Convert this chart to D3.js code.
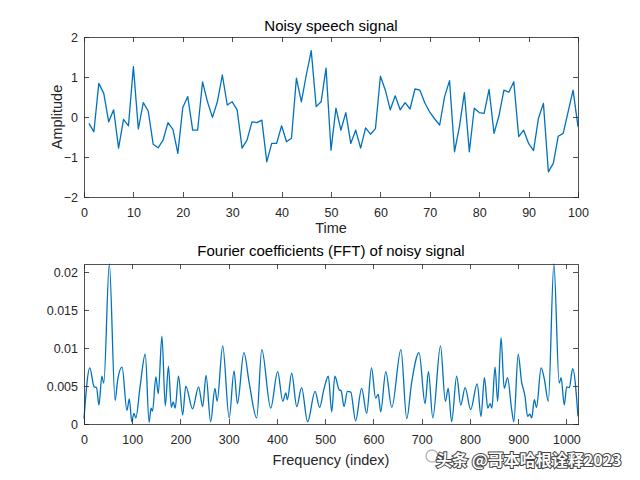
<!DOCTYPE html>
<html lang="en">
<head>
    <meta charset="UTF-8">
    <title>Noisy speech signal</title>
    <script src="https://cdn.jsdelivr.net/npm/d3@7/dist/d3.min.js"></script>
    <style>
        body { margin: 0; background: #fff; }
        .axis path, .axis line {
            fill: none;
            stroke: #262626;
            stroke-width: 0.8;
            shape-rendering: crispEdges;
        }
        .axis text {
            font-family: "Liberation Sans", Arial, sans-serif;
            font-size: 12.5px;
            fill: #262626;
        }
        .label {
            font-family: "Liberation Sans", Arial, sans-serif;
            font-size: 14.5px;
            fill: #262626;
        }
        .title {
            font-family: "Liberation Sans", Arial, sans-serif;
            font-size: 15px;
            fill: #000;
        }
    </style>
</head>
<body>
<script>
	// 时域信号 (t = 1..100)
	var signal = [
		-0.16, -0.37, 0.84, 0.59, -0.12, 0.18, -0.78, -0.06, -0.22, 1.26,
		-0.30, 0.36, 0.15, -0.68, -0.77, -0.58, -0.14, -0.31, -0.91, 0.24,
		0.51, -0.33, -0.33, 0.88, 0.38, -0.01, 0.38, 1.05, 0.30, 0.38,
		0.18, -0.78, -0.58, -0.12, -0.14, -0.08, -1.12, -0.66, -0.66, -0.22,
		-0.62, -0.53, 0.97, 0.38, 1.05, 1.66, 0.26, 0.38, 1.22, -0.83,
		0.22, -0.33, 0.11, -0.66, -0.33, -0.78, -0.27, -0.43, -0.29, 1.02,
		0.67, 0.18, 0.53, 0.18, 0.36, 0.20, 0.70, 0.67, 0.35, 0.12,
		-0.05, -0.20, 0.51, 0.91, -0.87, -0.24, 0.61, -0.87, 0.22, 0.11,
		0.09, 0.69, -0.41, 0.03, 0.67, 0.62, 0.88, -0.49, -0.33, -0.66,
		-0.84, -0.03, 0.34, -1.37, -1.16, -0.48, -0.41, 0.13, 0.67, -0.24
	];
	var timeIdx = d3.range(1, signal.length + 1);

	// FFT 幅值 (读图得到的极值点)
	var freqIdx = [
		0, 12, 21, 26, 31, 37, 41, 52.5, 64.5, 70, 79, 89, 94, 99, 103.5, 107.5,
		116, 127, 135, 139, 142, 149, 154, 161.5, 168.5, 175, 181, 185, 189, 196,
		204.5, 211, 225, 237.5, 246, 253, 262.5, 271.5, 276, 287.5, 301, 311, 318,
		331.5, 342.5, 358, 368.5, 387, 401.5, 412, 418.5, 421.5, 430.5, 441, 451,
		463.5, 479, 488.5, 497, 506.5, 513.5, 520, 529, 533, 539, 546, 553, 563,
		575.5, 586, 596, 604.5, 610, 615, 625.5, 638, 657, 669, 679, 694.5, 707,
		714, 723, 739, 749, 755, 762, 772.5, 781, 790, 801.5, 815, 823, 830, 837,
		842, 845.5, 852, 857.5, 864.5, 871, 878, 886.5, 891, 900, 907, 914, 919.5,
		924, 928, 933.5, 938, 947.5, 954, 962.5, 974, 985, 989, 995.5, 1000.5,
		1006, 1013, 1024
	];
	var fftMag = [
		0.0007, 0.0074, 0.0049, 0.0048, 0.0025, 0.0063, 0.0054, 0.0211, 0.0031, 0.0059, 0.0075, 0.0018, 0.0033, 0.0003, 0.0014, 0.0008,
		0.0048, 0.0092, 0.0002, 0.0021, 0.0017, 0.0062, 0.0040, 0.0116, 0.0024, 0.0076, 0.0022, 0.0029, 0.0021, 0.0063,
		0.0012, 0.0050, 0.0020, 0.0049, 0.0023, 0.0064, 0.0003, 0.0047, 0.0030, 0.0103, 0.0008, 0.0070, 0.0027,
		0.0094, 0.0054, 0.0008, 0.0098, 0.0021, 0.0069, 0.0030, 0.0041, 0.0032, 0.0067, 0.0023, 0.0048,
		0.0003, 0.0043, 0.0022, 0.0045, 0.0063, 0.0016, 0.0063, 0.0045, 0.0044, 0.0023, 0.0043, 0.0042, 0.0004,
		0.0047, 0.0014, 0.0074, 0.0034, 0.0039, 0.0016, 0.0069, 0.0022, 0.0098, 0.0007, 0.0054, 0.0094, 0.0027,
		0.0069, 0.0008, 0.0103, 0.0030, 0.0047, 0.0003, 0.0063, 0.0025, 0.0048, 0.0019, 0.0053, 0.0010, 0.0061, 0.0021,
		0.0027, 0.0021, 0.0075, 0.0030, 0.0114, 0.0047, 0.0061, 0.0019, 0.0003, 0.0092, 0.0056, 0.0037, 0.0010,
		0.0013, 0.0008, 0.0032, 0.0022, 0.0074, 0.0060, 0.0030, 0.0211, 0.0054, 0.0061, 0.0025, 0.0049,
		0.0048, 0.0073, 0.0010
	];

	var timeTicks = [0, 10, 20, 30, 40, 50, 60, 70, 80, 90, 100];
	var ampTicks = [-2, -1, 0, 1, 2];
	var freqTicks = [0, 100, 200, 300, 400, 500, 600, 700, 800, 900, 1000];
	var magTicks = [0, 0.005, 0.01, 0.015, 0.02];

	// 初始化画布
	var width = 640;
	var height = 480;
	var svg = d3.select("body")
		.append("svg")
		.attr("width", width)
		.attr("height", height);
	svg.append("rect").attr("width", width).attr("height", height).attr("fill", "#fff");

	var left = 84, right = 578;
	var lineColor = "#0072BD";
	var tickLen = 5;

	function drawAxes(top, bottom, x, y, xt, yt, fmtY) {
		var g = svg.append("g").attr("class", "axis");
		g.append("g").attr("transform", "translate(0," + bottom + ")")
			.call(d3.axisBottom(x).tickValues(xt).tickSizeInner(-tickLen).tickSizeOuter(0).tickPadding(11).tickFormat(d3.format("d")));
		g.append("g").attr("transform", "translate(0," + top + ")")
			.call(d3.axisTop(x).tickValues(xt).tickSizeInner(-tickLen).tickSizeOuter(0).tickFormat(""));
		g.append("g").attr("transform", "translate(" + left + ",0)")
			.call(d3.axisLeft(y).tickValues(yt).tickSizeInner(-tickLen).tickSizeOuter(0).tickPadding(6).tickFormat(fmtY));
		g.append("g").attr("transform", "translate(" + right + ",0)")
			.call(d3.axisRight(y).tickValues(yt).tickSizeInner(-tickLen).tickSizeOuter(0).tickFormat(""));
		return g;
	}

	// 上图：时域
	var top1 = 37, bot1 = 197;
	var x1 = d3.scaleLinear().domain([0, 100]).range([left, right]);
	var y1 = d3.scaleLinear().domain([-2, 2]).range([bot1, top1]);

	svg.append("path")
		.datum(signal)
		.attr("fill", "none")
		.attr("stroke", lineColor)
		.attr("stroke-width", 1.3)
		.attr("stroke-linejoin", "round")
		.attr("d", d3.line()
			.x(function (d, i) { return x1(timeIdx[i]); })
			.y(function (d) { return y1(d); }));
	drawAxes(top1, bot1, x1, y1, timeTicks, ampTicks, d3.format("d"));

	svg.append("text").attr("class", "title").attr("x", (left + right) / 2).attr("y", 31)
		.attr("text-anchor", "middle").text("Noisy speech signal");
	svg.append("text").attr("class", "label").attr("x", (left + right) / 2).attr("y", 233)
		.attr("text-anchor", "middle").text("Time");
	svg.append("text").attr("class", "label")
		.attr("transform", "translate(62," + (top1 + bot1) / 2 + ") rotate(-90)")
		.attr("text-anchor", "middle").text("Amplitude");

	// 下图：FFT
	var top2 = 264, bot2 = 424;
	var x2 = d3.scaleLinear().domain([0, 1024]).range([left, right]);
	var y2 = d3.scaleLinear().domain([0, 0.0211]).range([bot2, top2]);

	svg.append("path")
		.datum(fftMag)
		.attr("fill", "none")
		.attr("stroke", lineColor)
		.attr("stroke-width", 1.3)
		.attr("stroke-linejoin", "round")
		.attr("d", d3.line()
			.curve(d3.curveMonotoneX)
			.x(function (d, i) { return x2(freqIdx[i]); })
			.y(function (d) { return y2(d); }));
	drawAxes(top2, bot2, x2, y2, freqTicks, magTicks, d3.format("~g"));

	svg.append("text").attr("class", "title").attr("x", (left + right) / 2).attr("y", 256)
		.attr("text-anchor", "middle").text("Fourier coefficients (FFT) of noisy signal");
	svg.append("text").attr("class", "label").attr("x", (left + right) / 2).attr("y", 465)
		.attr("text-anchor", "middle").text("Frequency (index)");

	// 水印
	svg.append("circle").attr("cx", 432).attr("cy", 456).attr("r", 6)
		.attr("fill", "none").attr("stroke", "#bbb").attr("stroke-width", 1.5);
	svg.append("text")
		.attr("x", 436).attr("y", 466)
		.attr("font-family", "Noto Sans CJK SC")
		.attr("font-size", 16)
		.attr("font-weight", "bold")
		.attr("fill", "#fff")
		.attr("stroke", "#444")
		.attr("stroke-width", 2)
		.attr("paint-order", "stroke")
		.text("头条 @哥本哈根诠释2023");
</script>
</body>
</html>
